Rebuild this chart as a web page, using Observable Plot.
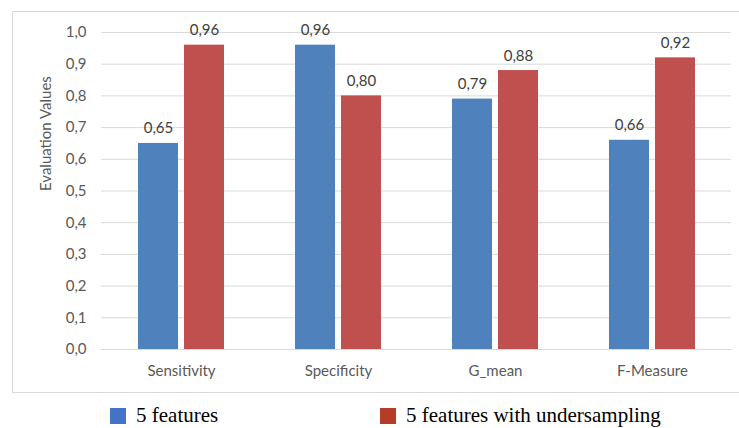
<!DOCTYPE html>
<html>
<head>
<meta charset="utf-8">
<script src="https://cdn.jsdelivr.net/npm/d3@7"></script>
<script src="https://cdn.jsdelivr.net/npm/@observablehq/plot@0.6"></script>
<style>
  body { margin: 0; background: #fff; width: 739px; height: 428px; overflow: hidden; position: relative; }
  #frame { position: absolute; left: 12px; top: 11px; width: 740px; height: 382px; border: 1px solid #d9d9d9; box-sizing: border-box; }
  #chart { position: absolute; left: 0; top: 0; }
  .legend { position: absolute; top: 403px; font-family: "Liberation Serif", "Times New Roman", serif; font-size: 21px; color: #000; display: flex; align-items: center; white-space: nowrap; }
  .legend .sw { width: 16px; height: 16px; display: inline-block; margin-right: 10px; }
</style>
</head>
<body>
<div id="frame"></div>
<div id="chart"></div>
<div class="legend" style="left:110px"><span class="sw" style="background:#4472c4"></span>5 features</div>
<div class="legend" style="left:380px"><span class="sw" style="background:#b93a26"></span>5 features with undersampling</div>
<script>
const metrics = ["Sensitivity", "Specificity", "G_mean", "F-Measure"];
const series = ["5 features", "5 features with undersampling"];
const fiveFeatures = [0.65, 0.96, 0.79, 0.66];
const withUndersampling = [0.96, 0.80, 0.88, 0.92];
const yTicks = [0, 0.1, 0.2, 0.3, 0.4, 0.5, 0.6, 0.7, 0.8, 0.9, 1.0];

const rowsA = metrics.map((m, i) => ({metric: m, series: series[0], value: fiveFeatures[i]}));
const rowsB = metrics.map((m, i) => ({metric: m, series: series[1], value: withUndersampling[i]}));

const fmt = v => v.toFixed(2).replace(".", ",");
const fmtTick = v => v.toFixed(1).replace(".", ",");

// Each metric band holds two 40px bars separated by a 6px gap
const barW = 40, gap = 6;

const chart = Plot.plot({
  width: 739,
  height: 400,
  marginLeft: 101,
  marginRight: 8,
  marginTop: 32,
  marginBottom: 51,
  style: {fontFamily: "Lato, 'Open Sans', sans-serif", color: "#595959", background: "transparent"},
  x: {domain: metrics, paddingInner: 0.454, paddingOuter: 0.227, label: null},
  y: {domain: [0, 1], ticks: yTicks, label: null},
  color: {domain: series, range: ["#4f81bd", "#c0504d"]},
  marks: [
    Plot.gridY(yTicks, {stroke: "#d9d9d9", strokeOpacity: 1, strokeWidth: 1}),
    Plot.axisY(yTicks, {tickSize: 0, tickPadding: 15, tickFormat: fmtTick, fontSize: 15, label: null}),
    Plot.axisX({anchor: "bottom", tickSize: 0, tickPadding: 16, fontSize: 15, label: null}),
    Plot.text(["Evaluation Values"], {frameAnchor: "left", dx: -55, rotate: -90, fontSize: 15, fill: "#595959"}),
    Plot.barY(rowsA, {x: "metric", y: "value", fill: "series", insetRight: barW + gap}),
    Plot.barY(rowsB, {x: "metric", y: "value", fill: "series", insetLeft: barW + gap}),
    Plot.text(rowsA, {x: "metric", y: "value", text: d => fmt(d.value), dx: -(barW + gap) / 2, lineAnchor: "bottom", dy: -10, fontSize: 15, fill: "#404040"}),
    Plot.text(rowsB, {x: "metric", y: "value", text: d => fmt(d.value), dx: (barW + gap) / 2, lineAnchor: "bottom", dy: -10, fontSize: 15, fill: "#404040"})
  ]
});
document.getElementById("chart").appendChild(chart);
</script>
</body>
</html>
